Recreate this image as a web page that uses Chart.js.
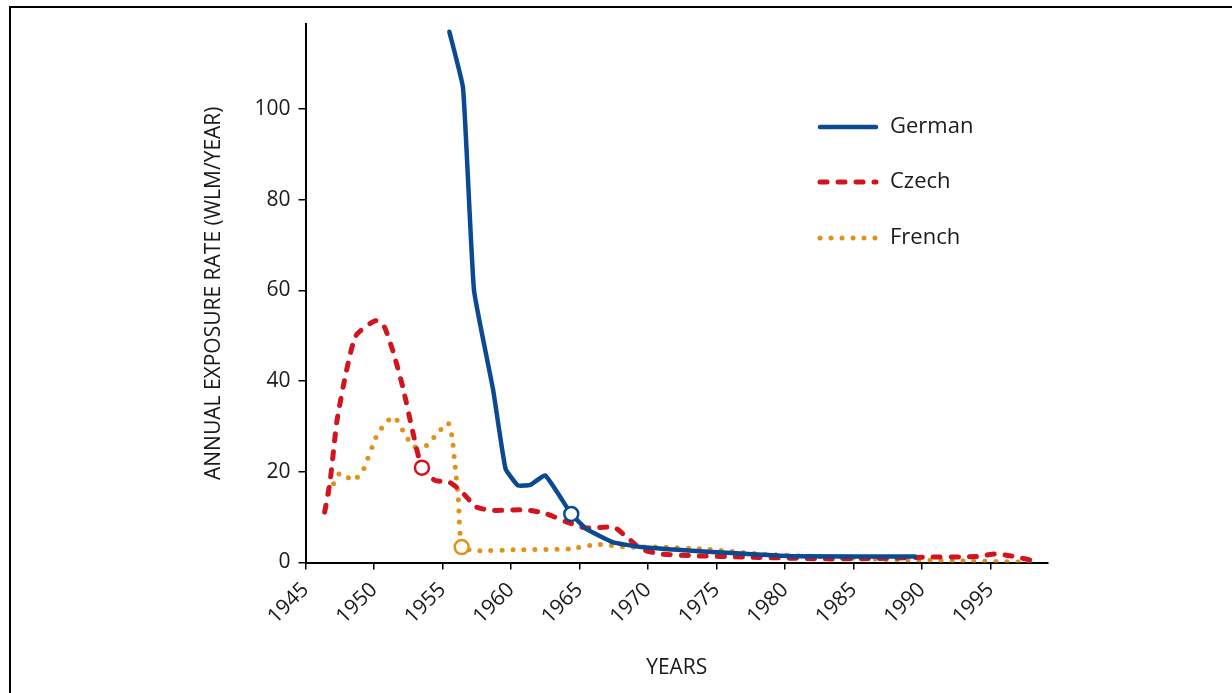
<!DOCTYPE html>
<html>
<head>
<meta charset="utf-8">
<script src="https://cdn.jsdelivr.net/npm/chart.js@4.4.1/dist/chart.umd.min.js"></script>
<style>
  body { margin: 0; background: #fff; }
  #wrap { position: relative; width: 1232px; height: 693px; overflow: hidden; }
  #frame { position: absolute; left: 9px; top: 6px; width: 1300px; height: 800px;
           border-left: 2px solid #000; border-top: 2px solid #000; }
  #chart { position: absolute; left: 0; top: 0; }
</style>
</head>
<body>
<div id="wrap">
  <div id="frame"></div>
  <canvas id="chart" width="1232" height="693"></canvas>
</div>
<script>
// Values
const xTicks = [1945, 1950, 1955, 1960, 1965, 1970, 1975, 1980, 1985, 1990, 1995];
const yTicks = [0, 20, 40, 60, 80, 100];

const germanYears = [1955.5, 1956.5, 1957.3, 1958.7, 1959.6, 1960.5, 1961.4, 1962.5, 1964.4, 1965.5, 1967.4, 1969.5, 1974.7, 1980.6, 1989.5];
const germanValues = [117, 104.6, 60, 38, 20.7, 17, 17.1, 19.2, 10.7, 7.4, 4.5, 3.4, 2.3, 1.4, 1.3];
const germanMarkerYear = 1964.4;

const czechYears = [1946.4, 1946.8, 1947.3, 1948.0, 1948.7, 1950.1, 1950.7, 1951.4, 1952.1, 1952.75, 1953.5, 1954.45, 1955.5, 1956.3, 1957.5, 1958.7, 1961.1, 1962.6, 1964.1, 1965.5, 1967.5, 1968.3, 1969.5, 1970.9, 1973.3, 1977.2, 1983.0, 1987.9, 1990.3, 1994.0, 1995.3, 1996.4, 1998.6];
const czechValues = [11.1, 18, 31.3, 42.4, 50.1, 53.3, 52.3, 46.4, 38.7, 29.9, 20.9, 18.1, 17.7, 15.9, 12.2, 11.5, 11.6, 10.7, 8.9, 7.6, 7.8, 6, 3.0, 1.9, 1.5, 1.2, 0.8, 0.95, 1.2, 1.3, 1.9, 1.5, 0.1];
const czechMarkerYear = 1953.5;

const frenchYears = [1946.7, 1947.5, 1948.5, 1949.2, 1950.2, 1950.9, 1951.5, 1952.3, 1952.9, 1953.85, 1954.6, 1955.4, 1955.7, 1955.9, 1956.15, 1956.4, 1957.5, 1960.2, 1964.3, 1966.3, 1968.5, 1971, 1974, 1978.2, 1983, 1987.9, 1993, 1998.6];
const frenchValues = [15.2, 19.7, 18.1, 20.3, 28.0, 31.0, 32.1, 28.0, 25.5, 25.8, 28.4, 30.8, 27.7, 21.8, 14.4, 3.4, 2.6, 2.8, 3.0, 4.0, 3.4, 3.4, 3.0, 1.9, 1.2, 0.6, 0.4, 0];
const frenchMarkerYear = 1956.4;

const BLUE = "#0b4a92";
const RED = "#d1141d";
const ORANGE = "#e3901a";
const FONT = "'Open Sans', sans-serif";

function toPoints(xs, ys) {
  return xs.map((x, i) => ({ x: x, y: ys[i] }));
}

function markerRadius(year) {
  return (ctx) => (ctx.raw && ctx.raw.x === year ? 7 : 0);
}

// Legend drawn inside the plot, to the upper right
const insideLegend = {
  id: "insideLegend",
  afterDraw(chart) {
    const ctx = chart.ctx;
    const rows = [
      { label: "German", color: BLUE, width: 4.5, dash: [], y: 127 },
      { label: "Czech", color: RED, width: 5, dash: [7, 11], y: 182 },
      { label: "French", color: ORANGE, width: 5, dash: [0, 11], y: 238 },
    ];
    ctx.save();
    rows.forEach((r) => {
      ctx.beginPath();
      ctx.strokeStyle = r.color;
      ctx.lineWidth = r.width;
      ctx.lineCap = "round";
      ctx.setLineDash(r.dash);
      ctx.moveTo(820, r.y);
      ctx.lineTo(876, r.y);
      ctx.stroke();
      ctx.setLineDash([]);
      ctx.fillStyle = "#1a1a1a";
      ctx.font = "22px " + FONT;
      ctx.textBaseline = "middle";
      ctx.textAlign = "left";
      ctx.fillText(r.label, 890, r.y);
    });
    ctx.restore();
  },
};

const ctx = document.getElementById("chart").getContext("2d");
new Chart(ctx, {
  type: "line",
  data: {
    datasets: [
      {
        label: "German",
        data: toPoints(germanYears, germanValues),
        borderColor: BLUE,
        borderWidth: 4.5,
        borderCapStyle: "round",
        borderJoinStyle: "round",
        tension: 0.12,
        pointRadius: markerRadius(germanMarkerYear),
        pointBackgroundColor: "#fff",
        pointBorderColor: BLUE,
        pointBorderWidth: 2.5,
        fill: false,
        order: 1,
      },
      {
        label: "Czech",
        data: toPoints(czechYears, czechValues),
        borderColor: RED,
        borderWidth: 5,
        borderDash: [7, 11],
        borderCapStyle: "round",
        tension: 0.2,
        pointRadius: markerRadius(czechMarkerYear),
        pointBackgroundColor: "#fff",
        pointBorderColor: RED,
        pointBorderWidth: 2.5,
        fill: false,
        order: 2,
      },
      {
        label: "French",
        data: toPoints(frenchYears, frenchValues),
        borderColor: ORANGE,
        borderWidth: 5,
        borderDash: [0, 11],
        borderCapStyle: "round",
        tension: 0.15,
        pointRadius: markerRadius(frenchMarkerYear),
        pointBackgroundColor: "#fff",
        pointBorderColor: ORANGE,
        pointBorderWidth: 2.5,
        fill: false,
        order: 3,
      },
    ],
  },
  options: {
    responsive: false,
    animation: false,
    events: [],
    layout: { padding: { left: 201, top: 24, right: 184, bottom: 0 } },
    plugins: { legend: { display: false }, tooltip: { enabled: false } },
    scales: {
      x: {
        type: "linear",
        min: 1945,
        max: 1999.2,
        afterFit: (scale) => { scale.height = 130.5; },
        afterBuildTicks: (scale) => { scale.ticks = xTicks.map((v) => ({ value: v })); },
        grid: { drawOnChartArea: false, drawTicks: true, tickLength: 7, color: "#000", lineWidth: 1.5 },
        border: { display: true, color: "#000", width: 2 },
        ticks: {
          color: "#1a1a1a",
          font: { family: FONT, size: 21 },
          minRotation: 45,
          maxRotation: 45,
          padding: 8,
          callback: (v) => String(v),
        },
        title: {
          display: true,
          text: "YEARS",
          color: "#1a1a1a",
          font: { family: FONT, size: 21 },
          padding: { top: 0, bottom: 12 },
        },
      },
      y: {
        min: 0,
        max: 118.7,
        afterFit: (scale) => { scale.width = 104.5; },
        afterBuildTicks: (scale) => { scale.ticks = yTicks.map((v) => ({ value: v })); },
        grid: { drawOnChartArea: false, drawTicks: true, tickLength: 7, color: "#000", lineWidth: 1.5 },
        border: { display: true, color: "#000", width: 2 },
        ticks: {
          color: "#1a1a1a",
          font: { family: FONT, size: 21 },
          padding: 8,
        },
        title: {
          display: true,
          text: "ANNUAL EXPOSURE RATE (WLM/YEAR)",
          color: "#1a1a1a",
          font: { family: FONT, size: 21 },
          padding: { top: 0, bottom: 0 },
        },
      },
    },
  },
  plugins: [insideLegend],
});
</script>
</body>
</html>
